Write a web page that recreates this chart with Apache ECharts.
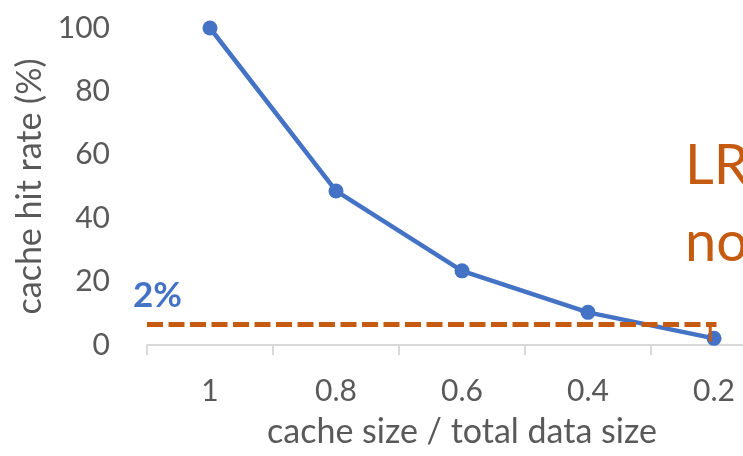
<!DOCTYPE html>
<html>
<head>
<meta charset="utf-8">
<script src="https://cdn.jsdelivr.net/npm/echarts@6/dist/echarts.min.js"></script>
<style>html,body{margin:0;padding:0;background:#fff}#c{width:743px;height:456px}</style>
</head>
<body>
<div id="c"></div>
<script>
const categories = ['1', '0.8', '0.6', '0.4', '0.2'];
const hitRate = [100, 48.6, 23.4, 10.3, 2.1];
const yMin = 0, yMax = 100, yStep = 20;
// threshold annotation, x in category-band units (0 = left edge of first band)
const thresholdLine = [[0, 6.5], [4.52, 6.5]];
const thresholdCap = [[4.47, 6.5], [4.47, 1.0]];
const thresholdLabel = '2%';
const sideText = ['LRU', 'not'];

const FONT = 'Lato';
const GRAY = '#595959';
const BLUE = '#4472C4';
const ORANGE = '#C55A11';

const chart = echarts.init(document.getElementById('c'), null, {renderer: 'canvas'});
chart.setOption({
  animation: false,
  backgroundColor: '#fff',
  grid: {left: 147, width: 630, top: 28, bottom: 111, containLabel: false, outerBoundsMode: 'none'},
  xAxis: [{
    type: 'category',
    data: categories,
    boundaryGap: true,
    axisLine: {lineStyle: {color: '#D9D9D9', width: 2}},
    axisTick: {show: true, length: 10, lineStyle: {color: '#D9D9D9', width: 2}},
    axisLabel: {color: GRAY, fontFamily: FONT, fontSize: 30, margin: 31},
    splitLine: {show: false},
    name: 'cache size / total data size',
    nameLocation: 'middle',
    nameGap: 70,
    nameTextStyle: {color: GRAY, fontFamily: FONT, fontSize: 34}
  }, {
    type: 'value', min: 0, max: 5, show: false
  }],
  yAxis: {
    type: 'value', min: yMin, max: yMax, interval: yStep,
    axisLine: {show: false}, axisTick: {show: false}, splitLine: {show: false},
    axisLabel: {color: GRAY, fontFamily: FONT, fontSize: 30, margin: 37},
    name: 'cache hit rate (%)',
    nameLocation: 'middle',
    nameRotate: 90,
    nameGap: 100,
    nameTextStyle: {color: GRAY, fontFamily: FONT, fontSize: 34}
  },
  series: [{
    type: 'line', xAxisIndex: 0, data: hitRate,
    symbol: 'circle', symbolSize: 15,
    itemStyle: {color: BLUE},
    lineStyle: {color: BLUE, width: 4.5},
    z: 2
  }, {
    type: 'line', xAxisIndex: 1, data: thresholdLine,
    symbol: 'none',
    lineStyle: {color: ORANGE, width: 5, type: [16, 5.5], cap: 'butt'},
    z: 3
  }, {
    type: 'line', xAxisIndex: 1, data: thresholdCap,
    symbol: 'none',
    lineStyle: {color: ORANGE, width: 3},
    z: 4
  }],
  graphic: [{
    type: 'text', left: 133, top: 278,
    style: {text: thresholdLabel, fill: BLUE, font: 'bold 35px Lato'}
  }, {
    type: 'text', left: 685, top: 138,
    style: {text: sideText[0], fill: ORANGE, font: '56px Lato'}
  }, {
    type: 'text', left: 685, top: 215,
    style: {text: sideText[1], fill: ORANGE, font: '56px Lato'}
  }]
});
</script>
</body>
</html>
